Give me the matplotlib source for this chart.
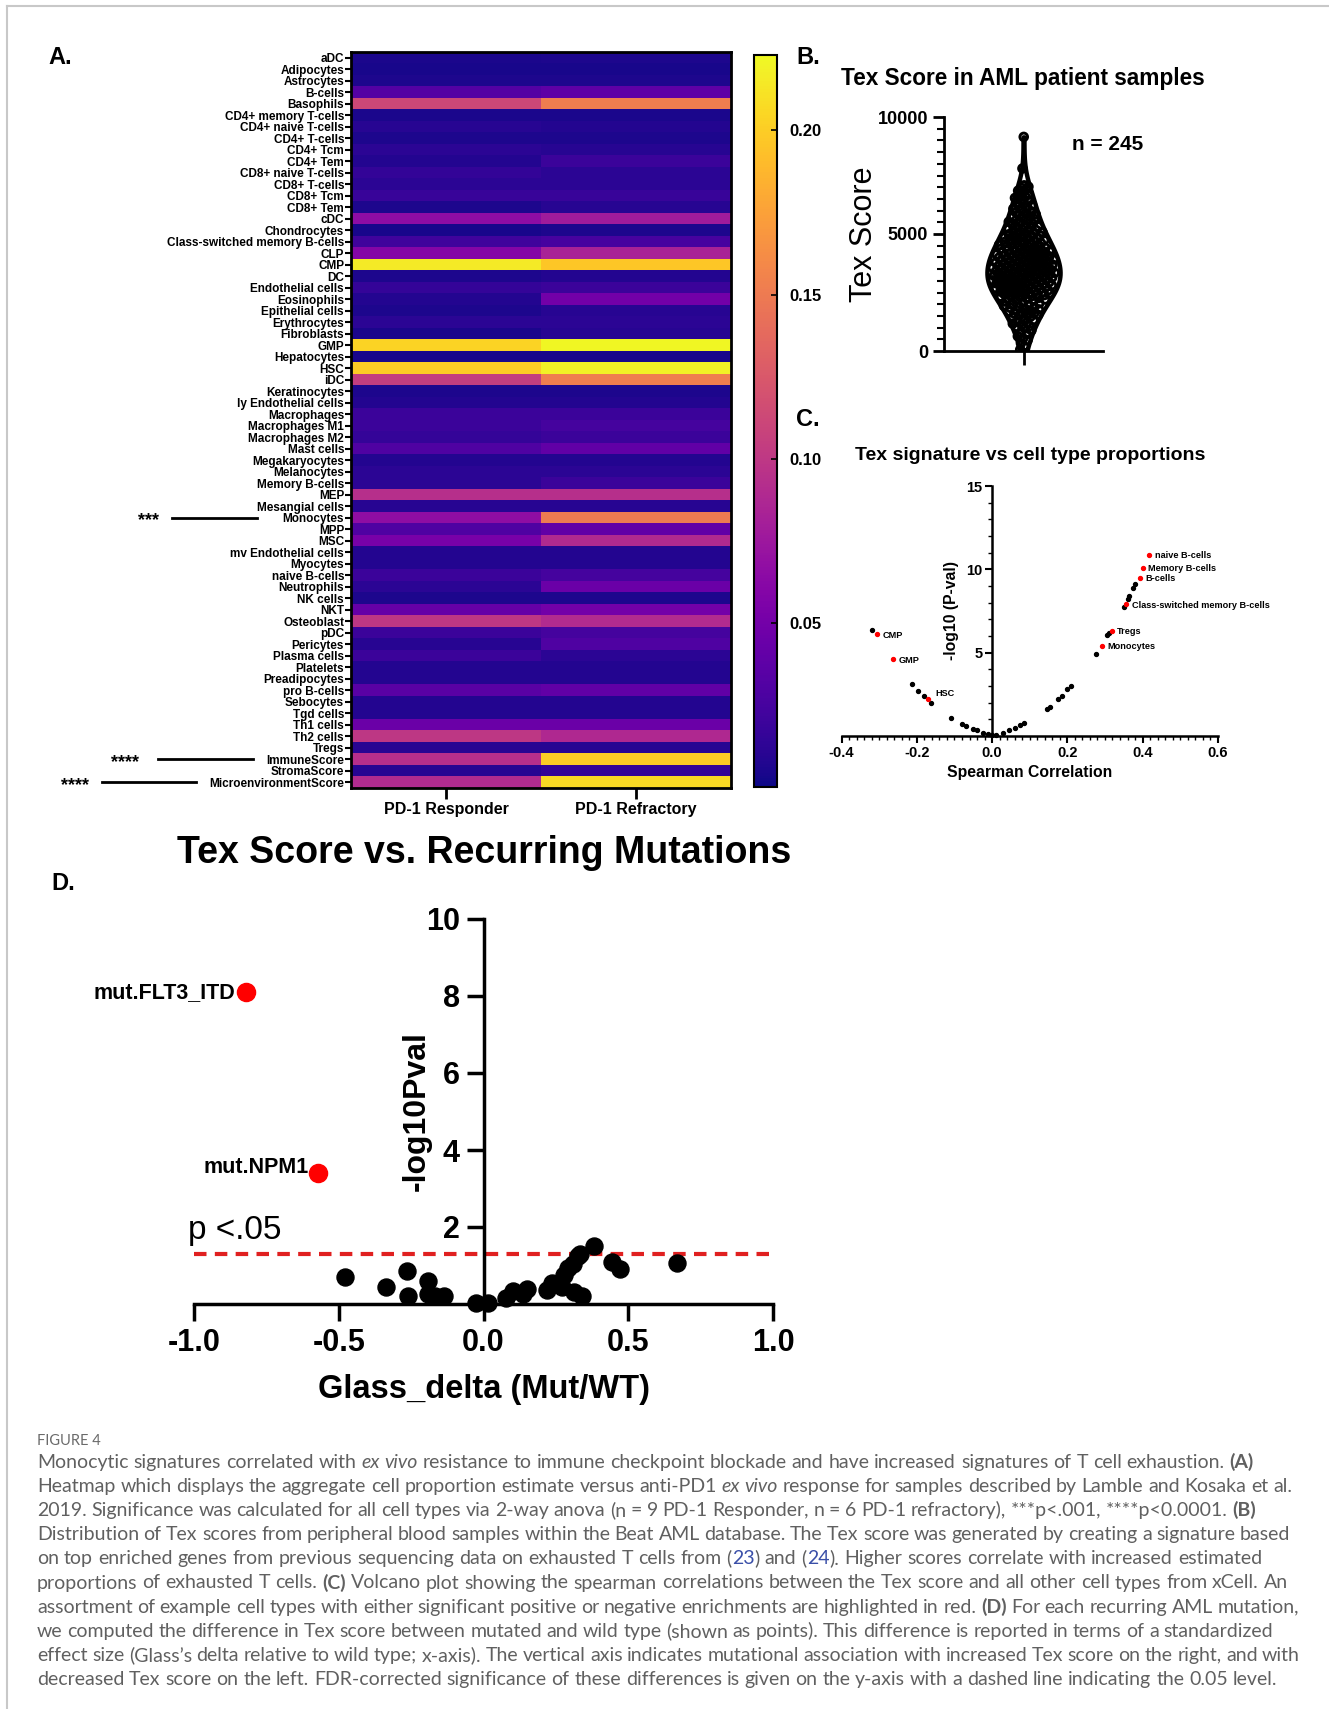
import re
import matplotlib
matplotlib.use("Agg")
import matplotlib.pyplot as plt
import matplotlib.transforms as mtransforms
from matplotlib.lines import Line2D
from matplotlib.ticker import MultipleLocator
import numpy as np

plt.rcParams['font.family'] = ['Liberation Sans', 'DejaVu Sans']

# ---------------- A. heatmap (aggregate cell proportion estimate)
cell_types = [
    "aDC", "Adipocytes", "Astrocytes", "B-cells", "Basophils",
    "CD4+ memory T-cells", "CD4+ naive T-cells", "CD4+ T-cells", "CD4+ Tcm", "CD4+ Tem",
    "CD8+ naive T-cells", "CD8+ T-cells", "CD8+ Tcm", "CD8+ Tem", "cDC",
    "Chondrocytes", "Class-switched memory B-cells", "CLP", "CMP", "DC",
    "Endothelial cells", "Eosinophils", "Epithelial cells", "Erythrocytes", "Fibroblasts",
    "GMP", "Hepatocytes", "HSC", "iDC", "Keratinocytes",
    "ly Endothelial cells", "Macrophages", "Macrophages M1", "Macrophages M2", "Mast cells",
    "Megakaryocytes", "Melanocytes", "Memory B-cells", "MEP", "Mesangial cells",
    "Monocytes", "MPP", "MSC", "mv Endothelial cells", "Myocytes",
    "naive B-cells", "Neutrophils", "NK cells", "NKT", "Osteoblast",
    "pDC", "Pericytes", "Plasma cells", "Platelets", "Preadipocytes",
    "pro B-cells", "Sebocytes", "Tgd cells", "Th1 cells", "Th2 cells",
    "Tregs", "ImmuneScore", "StromaScore", "MicroenvironmentScore",
]
responder = [
    0.005, 0.004, 0.006, 0.033, 0.112, 0.005, 0.010, 0.006, 0.012, 0.008,
    0.015, 0.012, 0.018, 0.006, 0.066, 0.004, 0.022, 0.060, 0.216, 0.006,
    0.016, 0.008, 0.006, 0.012, 0.005, 0.203, 0.004, 0.200, 0.105, 0.006,
    0.008, 0.020, 0.020, 0.016, 0.030, 0.008, 0.012, 0.012, 0.094, 0.010,
    0.067, 0.030, 0.053, 0.008, 0.008, 0.020, 0.012, 0.006, 0.042, 0.100,
    0.020, 0.010, 0.020, 0.008, 0.008, 0.035, 0.008, 0.008, 0.045, 0.100,
    0.010, 0.094, 0.010, 0.090,
]
refractory = [
    0.006, 0.004, 0.006, 0.038, 0.152, 0.005, 0.008, 0.006, 0.010, 0.020,
    0.012, 0.012, 0.018, 0.010, 0.078, 0.006, 0.026, 0.083, 0.196, 0.008,
    0.020, 0.049, 0.010, 0.012, 0.010, 0.222, 0.004, 0.218, 0.152, 0.006,
    0.008, 0.020, 0.025, 0.020, 0.040, 0.008, 0.012, 0.020, 0.094, 0.010,
    0.150, 0.040, 0.089, 0.008, 0.008, 0.025, 0.045, 0.006, 0.050, 0.090,
    0.025, 0.030, 0.012, 0.008, 0.008, 0.040, 0.008, 0.008, 0.045, 0.088,
    0.010, 0.200, 0.015, 0.207,
]
groups = ["PD-1 Responder", "PD-1 Refractory"]
sig_rows = ["Monocytes", "ImmuneScore", "MicroenvironmentScore"]
sig_stars = ["***", "****", "****"]

# ---------------- B. Tex score distribution
tex_scores = [
    60, 190, 330, 460,
    540, 630, 720, 800, 880, 960,
    1020, 1070, 1120, 1170, 1220, 1270, 1320, 1370, 1420, 1470,
    1510, 1540, 1570, 1600, 1630, 1660, 1690, 1720, 1750, 1780, 1810, 1840,
    1870, 1900, 1930, 1965,
    2010, 2040, 2080, 2110, 2150, 2180, 2200, 2230, 2250, 2270, 2300,
    2320, 2350, 2370, 2390, 2410, 2430, 2440, 2460, 2470, 2480, 2495,
    2510, 2525, 2540, 2560, 2575, 2590, 2610, 2625, 2640, 2660, 2675, 2690,
    2710, 2725, 2740, 2760, 2775, 2790, 2810, 2825, 2840, 2860, 2875, 2890,
    2910, 2925, 2940, 2960, 2975, 2990,
    3005, 3020, 3035, 3050, 3065, 3080, 3095, 3110, 3125, 3140, 3155, 3170,
    3185, 3200, 3215, 3230, 3250, 3265, 3280, 3295, 3310, 3325, 3340, 3355,
    3370, 3385, 3400, 3420, 3435, 3450, 3470, 3490,
    3510, 3525, 3540, 3560, 3575, 3590, 3610, 3625, 3640, 3660, 3675, 3690,
    3710, 3725, 3740, 3760, 3775, 3790, 3810, 3825, 3840, 3860, 3875, 3890,
    3910, 3925, 3940, 3960, 3975, 3990,
    4010, 4025, 4045, 4060, 4080, 4095, 4115, 4130, 4150, 4165, 4185, 4200,
    4220, 4235, 4255, 4270, 4290, 4305, 4325, 4340, 4360, 4375, 4395, 4410,
    4430, 4450, 4475,
    4510, 4535, 4560, 4585, 4610, 4635, 4660, 4685, 4710, 4735, 4760, 4785,
    4810, 4835, 4860, 4885, 4910, 4935, 4960, 4985,
    5020, 5050, 5085, 5110, 5140, 5170, 5200, 5230, 5260, 5290, 5320, 5360,
    5400, 5440, 5480,
    5520, 5560, 5600, 5640, 5680, 5720, 5760, 5800, 5840, 5880, 5920, 5960,
    6030, 6080, 6130, 6190, 6240, 6290, 6350, 6400, 6460,
    6540, 6600, 6660, 6720, 6780, 6850, 6910, 6970,
    7020, 7080, 7800, 9150,
]
n_text = "n = 245"

# ---------------- C. volcano, spearman correlation
corr_x = [-0.318, -0.213, -0.198, -0.180, -0.162, -0.110, -0.080, -0.070, -0.050,
          -0.040, -0.025, -0.010, 0.000, 0.010, 0.030, 0.045, 0.060, 0.075, 0.085,
          0.145, 0.155, 0.175, 0.185, 0.200, 0.210, 0.275, 0.305, 0.312, 0.350,
          0.360, 0.365, 0.375, 0.380]
corr_y = [6.35, 3.10, 2.70, 2.40, 1.95, 1.10, 0.70, 0.60, 0.40,
          0.35, 0.20, 0.10, 0.05, 0.08, 0.20, 0.35, 0.50, 0.65, 0.75,
          1.60, 1.75, 2.20, 2.40, 2.80, 3.00, 4.90, 6.05, 6.20, 7.75,
          8.20, 8.40, 8.90, 9.10]
hl_names = ["naive B-cells", "Memory B-cells", "B-cells", "Class-switched memory B-cells",
            "Tregs", "Monocytes", "CMP", "GMP", "HSC"]
hl_x = [0.418, 0.401, 0.392, 0.356, 0.318, 0.292, -0.307, -0.264, -0.170]
hl_y = [10.88, 10.10, 9.50, 7.90, 6.30, 5.40, 6.10, 4.60, 2.20]

# ---------------- D. Tex score vs recurring mutations
glass_delta = [-0.479, -0.336, -0.264, -0.260, -0.190, -0.193, -0.166, -0.135,
               -0.027, 0.016, 0.079, 0.103, 0.135, 0.150, 0.219, 0.238, 0.270,
               0.277, 0.293, 0.309, 0.325, 0.333, 0.314, 0.341, 0.383, 0.444,
               0.471, 0.670]
neglog_p = [0.69, 0.45, 0.86, 0.20, 0.61, 0.25, 0.22, 0.20,
            0.03, 0.03, 0.15, 0.33, 0.25, 0.40, 0.37, 0.54, 0.45,
            0.76, 0.94, 1.04, 1.24, 1.29, 0.30, 0.20, 1.51, 1.09,
            0.92, 1.06]
mut_names = ["mut.FLT3_ITD", "mut.NPM1"]
mut_x = [-0.82, -0.57]
mut_y = [8.10, 3.40]
p_cut = 0.05

caption_title = "FIGURE 4"
caption = [
    [("Monocytic signatures correlated with ", "n"), ("ex vivo", "i"),
     (" resistance to immune checkpoint blockade and have increased signatures of T cell exhaustion. ", "n"),
     ("(A)", "b")],
    [("Heatmap which displays the aggregate cell proportion estimate versus anti-PD1 ", "n"),
     ("ex vivo", "i"), (" response for samples described by Lamble and Kosaka et al.", "n")],
    [("2019. Significance was calculated for all cell types via 2-way anova (n = 9 PD-1 Responder, "
      "n = 6 PD-1 refractory), ***p<.001, ****p<0.0001. ", "n"), ("(B)", "b")],
    [("Distribution of Tex scores from peripheral blood samples within the Beat AML database. "
      "The Tex score was generated by creating a signature based", "n")],
    [("on top enriched genes from previous sequencing data on exhausted T cells from (", "n"),
     ("23", "l"), (") and (", "n"), ("24", "l"),
     ("). Higher scores correlate with increased estimated", "n")],
    [("proportions of exhausted T cells. ", "n"), ("(C)", "b"),
     (" Volcano plot showing the spearman correlations between the Tex score and all other "
      "cell types from xCell. An", "n")],
    [("assortment of example cell types with either significant positive or negative "
      "enrichments are highlighted in red. ", "n"), ("(D)", "b"),
     (" For each recurring AML mutation,", "n")],
    [("we computed the difference in Tex score between mutated and wild type (shown as points). "
      "This difference is reported in terms of a standardized", "n")],
    [("effect size (Glass\u2019s delta relative to wild type; x-axis). The vertical axis indicates "
      "mutational association with increased Tex score on the right, and with", "n")],
    [("decreased Tex score on the left. FDR-corrected significance of these differences is "
      "given on the y-axis with a dashed line indicating the 0.05 level.", "n")],
]
# right end of each caption line, in pixels
caption_ends = [1254, 1292, 1256, 1290, 1262, 1288, 1299, 1273, 1300, 1277]

W, H = 1329, 1709
fig = plt.figure(figsize=(W / 100, H / 100), dpi=100)


def box(x0, y0, x1, y1):
    return [x0 / W, 1 - y1 / H, (x1 - x0) / W, (y1 - y0) / H]


def ftext(x, y, s, **kw):
    return fig.text(x / W, 1 - y / H, s, **kw)


# frame lines of the page
fig.add_artist(Line2D([7 / W, 7 / W], [0, 1 - 6 / H], color="#c8c8c8", lw=1.5))
fig.add_artist(Line2D([7 / W, 1], [1 - 6 / H, 1 - 6 / H], color="#c8c8c8", lw=1.5))

# ---------------- A
ax = fig.add_axes(box(351, 52, 731, 788))
data = np.column_stack([responder, refractory])
im = ax.imshow(data, aspect="auto", cmap="plasma", vmin=0, vmax=0.223,
               interpolation="nearest")
ax.set_yticks(range(len(cell_types)))
ax.set_yticklabels(cell_types, fontsize=8.5, fontweight="bold",
                   fontfamily=["Liberation Sans Narrow", "Liberation Sans"])
ax.set_xticks([0, 1])
ax.set_xticklabels(groups, fontsize=11.5, fontweight="bold")
ax.tick_params(axis="y", length=4, width=1.5, pad=1)
ax.tick_params(axis="x", length=8, width=2, pad=2)
for s in ax.spines.values():
    s.set_linewidth(2)

trans = mtransforms.blended_transform_factory(fig.transFigure, ax.transData)
star_pos = [(149, 172, 257), (125, 158, 253), (75, 102, 196)]
for name, stars, (sx, l0, l1) in zip(sig_rows, sig_stars, star_pos):
    row = cell_types.index(name)
    ax.text(sx / W, row + 0.25, stars, transform=trans, ha="center", va="center",
            fontsize=13, fontweight="bold")
    ax.plot([l0 / W, l1 / W], [row, row], transform=trans, color="black", lw=2,
            clip_on=False)

cax = fig.add_axes(box(754, 55, 777, 787))
cb = fig.colorbar(im, cax=cax, ticks=[0.05, 0.10, 0.15, 0.20])
cb.ax.set_yticklabels(["0.05", "0.10", "0.15", "0.20"], fontsize=12, fontweight="bold")
cb.ax.tick_params(direction="in", length=4, width=1.2, pad=9)
cb.outline.set_linewidth(1.5)

ftext(60, 57, "A.", fontsize=17, fontweight="bold", ha="center", va="center")
ftext(808, 57, "B.", fontsize=17, fontweight="bold", ha="center", va="center")
ftext(808, 420, "C.", fontsize=17, fontweight="bold", ha="center", va="center")
ftext(63, 883, "D.", fontsize=17, fontweight="bold", ha="center", va="center")

# ---------------- B
axb = fig.add_axes(box(944, 117, 1103, 351))
vp = axb.violinplot([tex_scores], positions=[1], widths=0.46, showextrema=False,
                    bw_method=0.4)
for body in vp["bodies"]:
    body.set_facecolor("white")
    body.set_edgecolor("black")
    body.set_linewidth(3.2)
    body.set_alpha(1)

vals = np.array(tex_scores, dtype=float)
grid = vals[:, None]
bw = 0.4 * vals.std(ddof=1)
dens = np.exp(-0.5 * ((grid - vals[None, :]) / bw) ** 2).sum(axis=1)
half = 0.23 * dens / dens.max()
spread = ((np.arange(len(vals)) * 0.618034) % 1) * 2 - 1
axb.scatter(1 + 0.88 * half * spread, vals, s=30, facecolor="none",
            edgecolor="black", linewidth=2.1, zorder=3)
axb.set_xlim(0.5, 1.5)
axb.set_ylim(0, 10000)
axb.set_yticks([0, 5000, 10000])
axb.yaxis.set_minor_locator(MultipleLocator(500))
axb.set_xticks([1])
axb.set_xticklabels([])
axb.tick_params(axis="y", which="major", length=8, width=2, labelsize=13)
axb.tick_params(axis="y", which="minor", length=5, width=1.5)
axb.tick_params(axis="x", length=10, width=2)
for lab in axb.get_yticklabels():
    lab.set_fontweight("bold")
for k in ("top", "right"):
    axb.spines[k].set_visible(False)
for k in ("left", "bottom"):
    axb.spines[k].set_linewidth(2)
axb.set_ylabel("Tex Score", fontsize=22)
axb.yaxis.set_label_coords(-0.41, 0.5)
ftext(1023, 78, "Tex Score in AML patient samples", fontsize=16.3, fontweight="bold",
      ha="center", va="center")
ftext(1108, 144, n_text, fontsize=15, fontweight="bold", ha="center", va="center")

# ---------------- C
axc = fig.add_axes(box(841.6, 486, 1217.8, 736))
axc.scatter(corr_x, corr_y, s=8, color="black", zorder=3, clip_on=False)
axc.scatter(hl_x, hl_y, s=8, color="red", zorder=4, clip_on=False)
for name, x, y in zip(hl_names, hl_x, hl_y):
    off = (5, 4) if name == "HSC" else (4, -0.5)
    axc.annotate(name, (x, y), xytext=off, textcoords="offset points", fontsize=6.6,
                 fontweight="bold", ha="left", va="center")
axc.set_xlim(-0.4, 0.6)
axc.set_ylim(0, 15)
axc.spines["left"].set_position(("data", 0))
for k in ("top", "right"):
    axc.spines[k].set_visible(False)
for k in ("left", "bottom"):
    axc.spines[k].set_linewidth(1.8)
axc.set_xticks([-0.4, -0.2, 0.0, 0.2, 0.4, 0.6])
axc.set_xticklabels(["-0.4", "-0.2", "0.0", "0.2", "0.4", "0.6"])
axc.xaxis.set_minor_locator(MultipleLocator(0.02))
axc.set_yticks([5, 10, 15])
axc.yaxis.set_minor_locator(MultipleLocator(1))
axc.tick_params(which="major", length=5, width=1.5, labelsize=10.5, pad=2)
axc.tick_params(which="minor", length=3, width=1)
for lab in axc.get_xticklabels() + axc.get_yticklabels():
    lab.set_fontweight("bold")
axc.set_xlabel("Spearman Correlation", fontsize=11.3, fontweight="bold", labelpad=4)
axc.set_ylabel("-log10 (P-val)", fontsize=11.3, fontweight="bold")
axc.yaxis.set_label_coords(0.312, 0.5)
ftext(1030, 455, "Tex signature vs cell type proportions", fontsize=14,
      fontweight="bold", ha="center", va="center")

# ---------------- D
axd = fig.add_axes(box(194, 919, 773, 1304))
axd.axhline(-np.log10(p_cut), color="#e02020", lw=3, ls=(0, (3, 2)), zorder=2)
axd.scatter(glass_delta, neglog_p, s=150, color="black", zorder=3, clip_on=False)
axd.scatter(mut_x, mut_y, s=170, color="red", zorder=3, clip_on=False)
for name, x, y in zip(mut_names, mut_x, mut_y):
    off = (-8, 0) if name == "mut.FLT3_ITD" else (-7, 4)
    axd.annotate(name, (x, y), xytext=off, textcoords="offset points", fontsize=15.5,
                 fontweight="bold", ha="right", va="center")
axd.text(-1.02, 1.92, "p <.05", fontsize=24, ha="left", va="center")
axd.set_xlim(-1, 1)
axd.set_ylim(0, 10)
axd.spines["left"].set_position(("data", 0))
for k in ("top", "right"):
    axd.spines[k].set_visible(False)
for k in ("left", "bottom"):
    axd.spines[k].set_linewidth(2.5)
axd.set_xticks([-1, -0.5, 0, 0.5, 1])
axd.set_xticklabels(["-1.0", "-0.5", "0.0", "0.5", "1.0"])
axd.set_yticks([2, 4, 6, 8, 10])
axd.tick_params(length=12, width=2.5, labelsize=22, pad=5)
for lab in axd.get_xticklabels() + axd.get_yticklabels():
    lab.set_fontweight("bold")
axd.set_xlabel("Glass_delta (Mut/WT)", fontsize=23.5, fontweight="bold", labelpad=12)
axd.set_ylabel("-log10Pval", fontsize=23, fontweight="bold")
axd.yaxis.set_label_coords(0.41, 0.5)
ftext(484, 853, "Tex Score vs. Recurring Mutations", fontsize=27, fontweight="bold",
      ha="center", va="center")

# ---------------- caption
renderer = fig.canvas.get_renderer()
cap_font = ["Lato", "DejaVu Sans"]
base = dict(fontsize=14, color="#606060", fontfamily=cap_font)
styles = {"n": {}, "i": {"fontstyle": "italic"}, "b": {"fontweight": "bold"},
          "l": {"color": "#3a4fa8"}}


def run_width(s, kw):
    t1 = fig.text(0, 0, s + "|", **kw)
    t0 = fig.text(0, 0, "|", **kw)
    w = t1.get_window_extent(renderer).width - t0.get_window_extent(renderer).width
    t1.remove()
    t0.remove()
    return w


ftext(37, 1445, caption_title, fontsize=10.5, color="#6a6a6a", fontfamily=cap_font,
      va="baseline")
x_start = 37
for i, runs in enumerate(caption):
    y = 1468 + i * 24.1
    pieces = []
    for s, st in runs:
        kw = dict(base)
        kw.update(styles[st])
        for part in re.split(r"( )", s):
            if part:
                pieces.append((part, kw, run_width(part, kw)))
    natural = sum(p[2] for p in pieces)
    n_sp = sum(1 for p in pieces if p[0] == " ")
    extra = (caption_ends[i] - x_start - natural) / max(n_sp, 1)
    x = x_start
    for part, kw, w in pieces:
        if part == " ":
            x += w + extra
            continue
        ftext(x, y, part, va="baseline", ha="left", **kw)
        x += w

fig.savefig("out.png", dpi=100)
